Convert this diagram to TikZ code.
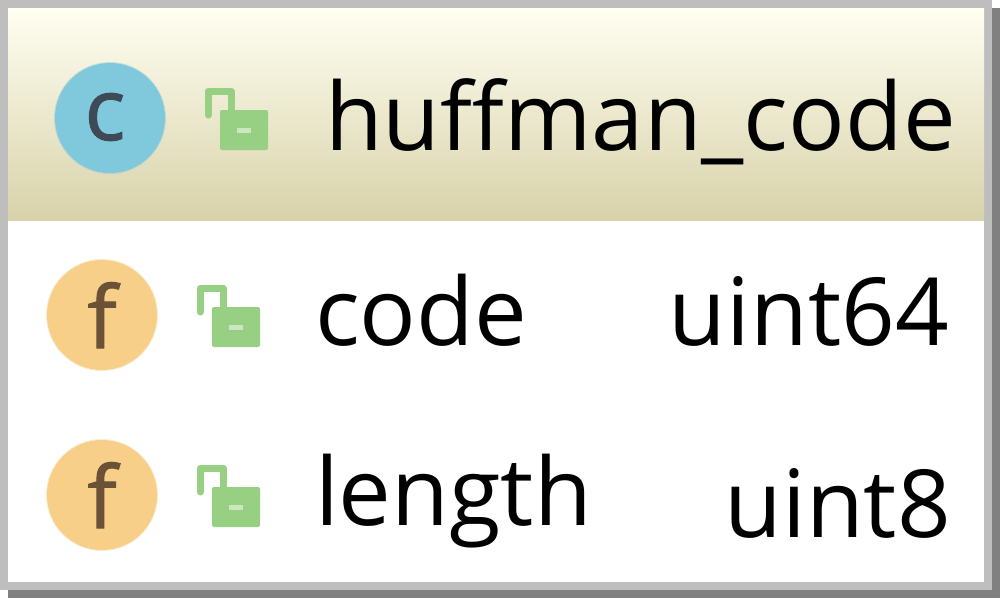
\documentclass[tikz,border=0pt]{standalone}
\usepackage{fontspec}
\setmainfont{Open Sans}
\begin{document}
\begin{tikzpicture}[x=1pt,y=-1pt,
  label text/.style={inner sep=0pt,font=\fontsize{94}{94}\selectfont,text=black},
  icon letter/.style={inner sep=0pt,font=\addfontfeature{FakeBold=1.2}\fontsize{86}{86}\selectfont},
  lock green/.style={fill=lockgreen,draw=none,rounded corners=2pt},
  class disc/.style={circle,fill=classblue,draw=classblue,draw opacity=.4,line width=2pt,minimum size=110pt,inner sep=0pt},
  field disc/.style={circle,fill=fieldorange,draw=fieldorange,draw opacity=.4,line width=2pt,minimum size=110pt,inner sep=0pt}]
\definecolor{lockgreen}{HTML}{98D083}
\definecolor{classblue}{HTML}{80C8DC}
\definecolor{fieldorange}{HTML}{F7CF88}
\definecolor{lettergrey}{HTML}{3E4A56}
\definecolor{letterbrown}{HTML}{6B5236}
\definecolor{frame}{HTML}{BEBEBE}
\definecolor{drop}{HTML}{808080}
\definecolor{headtop}{HTML}{FFFFF2}
\definecolor{headbot}{HTML}{D8D2AA}
\useasboundingbox (0,0) rectangle (1000,598);
\fill[white] (0,0) rectangle (1000,598);
\fill[drop] (8,8) rectangle (1000,598);
\fill[frame] (0,0) rectangle (992,590);
\fill[white] (8,8) rectangle (984,582);
\shade[top color=headtop,bottom color=headbot,middle color=headtop!50!headbot] (8,8) rectangle (984,220);
\node[class disc] (cdisc) at (110,118) {};
\node[field disc] (fdisca) at (102,315) {};
\node[field disc] (fdiscb) at (102,495) {};
\node[icon letter,text=lettergrey,anchor=base] (cletter) at (105,140) {c};
\node[icon letter,text=letterbrown,anchor=base] (fletter1) at (102,348) {f};
\node[icon letter,text=letterbrown,anchor=base] (fletter2) at (102,528) {f};
\newcommand{\padlock}[2]{%
  \begin{scope}[shift={(#1,#2)}]
  \draw[lockgreen,line width=7pt,line cap=round,line join=round] (4,28) -- (4,4) -- (27,4) -- (27,26);
  \fill[lock green] (16,23) rectangle (64,63);
  \fill[white,opacity=.5] (33,41) rectangle (47,46);
  \end{scope}}
\padlock{204}{87}
\padlock{196}{284}
\padlock{196}{464}
\node[label text,anchor=base west] (title) at (325,150) {huffman\_code};
\node[label text,anchor=base west] (code) at (315,345) {code};
\node[label text,anchor=base east] (codetype) at (949,345) {uint64};
\node[label text,anchor=base west] (length) at (315,525) {length};
\node[label text,anchor=base east] (lengthtype) at (951,537) {uint8};
\end{tikzpicture}
\end{document}
